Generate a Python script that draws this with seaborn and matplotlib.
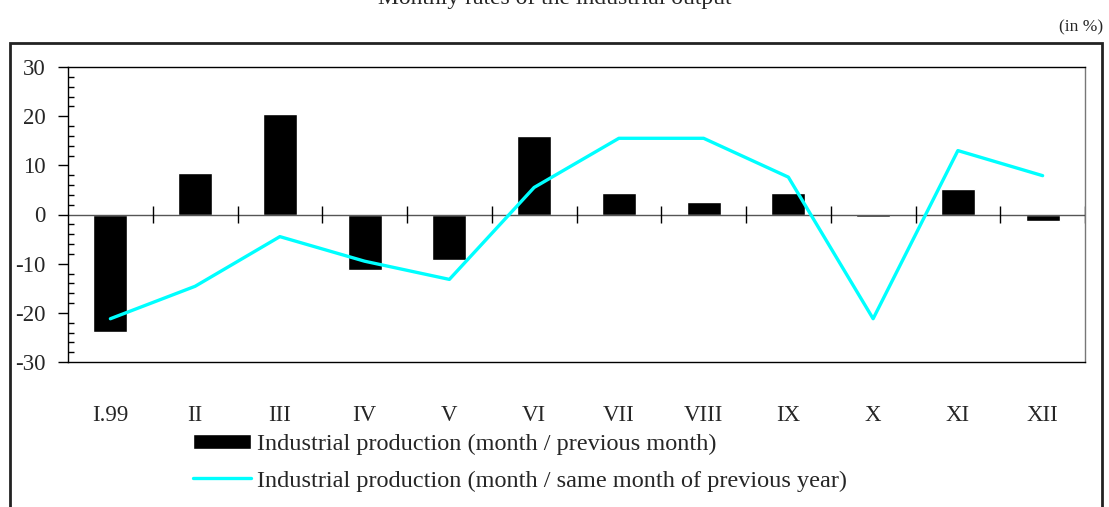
import numpy as np
import pandas as pd
import seaborn as sns
import matplotlib.pyplot as plt
from matplotlib.patches import Rectangle
from matplotlib.ticker import MultipleLocator

# datos
meses = ['I.99', 'II', 'III', 'IV', 'V', 'VI', 'VII', 'VIII', 'IX', 'X', 'XI', 'XII']
mes_anterior = [-23.8, 8.5, 20.5, -11.3, -9.3, 16.0, 4.3, 2.6, 4.3, -0.5, 5.1, -1.4]
mismo_mes_anio_ant = [-21.2, -14.6, -4.5, -9.5, -13.2, 5.5, 15.5, 15.5, 7.6, -21.2, 13.0, 7.9]
yticks = [-30, -20, -10, 0, 10, 20, 30]

lbl_barras = 'Industrial production (month / previous month)'
lbl_linea = 'Industrial production (month / same month of previous year)'

df = pd.DataFrame({'mes': meses, 'mm': mes_anterior, 'yy': mismo_mes_anio_ant})

sns.set_style('white')
plt.rcParams['font.family'] = ['Liberation Serif', 'DejaVu Serif']

W, H = 1109, 507
fig = plt.figure(figsize=(W / 100, H / 100), dpi=100)
ax = fig.add_axes([68 / W, 1 - 362 / H, (1085 - 68) / W, (362 - 67) / H])

# barras
sns.barplot(data=df, x='mes', y='mm', color='black', width=0.4, saturation=1,
            ax=ax, label=lbl_barras)
# linea
sns.lineplot(x=np.arange(len(meses)), y=df['yy'], color='#00FFFF', lw=2.4,
             ax=ax, label=lbl_linea)

ax.set_ylim(-30, 30)
ax.set_xlim(-0.5, len(meses) - 0.5)
ax.set_xlabel('')
ax.set_ylabel('')

# eje de categorias en cero
ax.axhline(0, color='#555555', lw=1, zorder=1)
ax.vlines(np.arange(0.5, len(meses) + 0.5), -1.7, 1.7, color='black', lw=1, zorder=1)

ax.set_yticks(yticks)
ax.set_yticklabels([str(v) for v in yticks])
ax.yaxis.set_minor_locator(MultipleLocator(2))
ax.tick_params(axis='y', which='major', direction='out', length=7, width=1,
               labelsize=16.5, pad=9, left=True, color='black')
ax.tick_params(axis='y', which='minor', direction='in', length=4, width=1,
               left=True, color='black')
ax.tick_params(axis='x', length=0, labelsize=16.5, pad=31)

for s in ax.spines.values():
    s.set_color('black')
    s.set_linewidth(1)
ax.spines['right'].set_color('#777777')

# leyenda: barras primero
ax.legend_.remove()
h, l = ax.get_legend_handles_labels()
orden = [l.index(lbl_barras), l.index(lbl_linea)]
fig.legend([h[i] for i in orden], [l[i] for i in orden], loc='upper left',
           bbox_to_anchor=(193 / W, 1 - 434 / H),
           frameon=False, fontsize=17.5, handlelength=2.4, handleheight=0.6,
           handletextpad=0.25, labelspacing=0.62, borderpad=0, borderaxespad=0)

# marco exterior y textos
fig.patches.append(Rectangle((10 / W, -0.1), (1102 - 10) / W, 0.1 + 1 - 43 / H,
                             transform=fig.transFigure, fill=False,
                             edgecolor='#222222', lw=2))
fig.text(0.5, 1 - 4 / H, 'Monthly rates of the industrial output', ha='center',
         va='baseline', fontsize=17)
fig.text(1103 / W, 1 - 27 / H, '(in %)', ha='right', va='center', fontsize=12.5)

fig.savefig('out.png', dpi=100)
